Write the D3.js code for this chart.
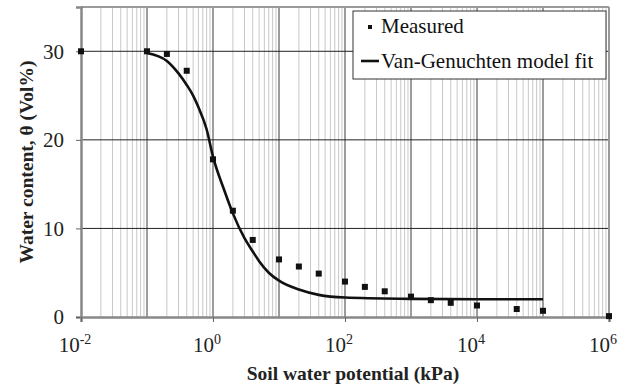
<!DOCTYPE html>
<html>
<head>
<meta charset="utf-8">
<script src="https://cdn.jsdelivr.net/npm/d3@7"></script>
<style>
  body { margin: 0; background: #fff; }
  svg { display: block; font-family: "Liberation Serif", "Times New Roman", serif; }
</style>
</head>
<body>
<svg id="chart" width="629" height="390"></svg>
<script>
// measured retention points (kPa, vol%)
const measuredX = [0.01, 0.1, 0.2, 0.4, 1, 2, 4, 10, 20, 40, 100, 200, 400, 1000, 2000, 4000, 10000, 40000, 100000, 1000000]
const measuredY = [30, 30, 29.7, 27.8, 17.8, 12, 8.7, 6.5, 5.7, 4.9, 4.0, 3.4, 2.9, 2.3, 1.9, 1.6, 1.3, 0.9, 0.7, 0.1]

// van Genuchten fit
const fitX = [0.1, 0.2, 0.3, 0.4, 0.5, 0.6, 0.8, 1, 1.5, 2, 3, 4, 5, 7, 10, 20, 40, 100, 1000, 10000, 100000]
const fitY = [29.8, 28.9, 27.5, 26.2, 25.0, 23.7, 21.2, 18.1, 14.2, 11.7, 8.9, 7.4, 6.3, 5.0, 4.1, 3.1, 2.5, 2.2, 2.05, 2.0, 2.0]

const xTicks = [-2, 0, 2, 4, 6]       // exponents
const yTicks = [0, 10, 20, 30]
const legendLabels = ['Measured', 'Van-Genuchten model fit']

const margin = { top: 7, right: 20, bottom: 73, left: 81 }
const width = 629 - margin.left - margin.right
const height = 390 - margin.top - margin.bottom

const svg = d3.select('#chart')
const g = svg.append('g')
    .attr('transform', `translate(${margin.left},${margin.top})`)

const x = d3.scaleLog().domain([1e-2, 1e6]).range([0, width])
const y = d3.scaleLinear().domain([0, 35]).range([height, 0])

// minor vertical grid
const minor = []
for (let e = -2; e < 6; e++)
  for (let k = 2; k < 10; k++) minor.push(k * Math.pow(10, e))

g.append('g')
    .selectAll('line')
    .data(minor)
    .join('line')
    .attr('x1', d => x(d)).attr('x2', d => x(d))
    .attr('y1', 0).attr('y2', height)
    .attr('stroke', '#c8c8c8')
    .attr('stroke-width', 1)

// major vertical grid
g.append('g')
    .selectAll('line')
    .data(d3.range(-1, 6))
    .join('line')
    .attr('x1', d => x(Math.pow(10, d))).attr('x2', d => x(Math.pow(10, d)))
    .attr('y1', 0).attr('y2', height)
    .attr('stroke', '#3a3a3a')
    .attr('stroke-width', 1)

// horizontal grid
g.append('g')
    .selectAll('line')
    .data(yTicks.filter(d => d > 0))
    .join('line')
    .attr('x1', 0).attr('x2', width)
    .attr('y1', d => y(d)).attr('y2', d => y(d))
    .attr('stroke', '#222')
    .attr('stroke-width', 1)

// frame
g.append('line').attr('x1', 0).attr('x2', width).attr('y1', 0).attr('y2', 0)
    .attr('stroke', '#999').attr('stroke-width', 2)
g.append('line').attr('x1', width).attr('x2', width).attr('y1', 0).attr('y2', height)
    .attr('stroke', '#999').attr('stroke-width', 2)

// axes
const yAxis = g.append('g')
    .call(d3.axisLeft(y).tickValues(yTicks).tickSize(5).tickPadding(12))
yAxis.select('.domain').attr('stroke', '#888').attr('stroke-width', 2.5)
yAxis.selectAll('.tick line').attr('stroke', '#666')
yAxis.selectAll('text')
    .attr('font-size', 21)
    .attr('fill', '#222')
    .attr('font-family', '"Liberation Serif", serif')

const xAxis = g.append('g')
    .attr('transform', `translate(0,${height})`)
    .call(d3.axisBottom(x).tickValues(xTicks.map(e => Math.pow(10, e))).tickSize(5).tickFormat(''))
xAxis.select('.domain').attr('stroke', '#888').attr('stroke-width', 2.5)
xAxis.selectAll('.tick line').attr('stroke', '#666')

const xLabels = g.append('g')
    .selectAll('text')
    .data(xTicks)
    .join('text')
    .attr('x', d => x(Math.pow(10, d)) - 6)
    .attr('y', height + 35)
    .attr('text-anchor', 'middle')
    .attr('font-size', 21)
    .attr('fill', '#222')

xLabels.append('tspan').text('10')
xLabels.append('tspan')
    .attr('dy', -8)
    .attr('font-size', 14)
    .text(d => d)

// fit curve
const line = d3.line()
    .x(d => x(d[0]))
    .y(d => y(d[1]))
    .curve(d3.curveMonotoneX)

g.append('path')
    .datum(d3.zip(fitX, fitY))
    .attr('fill', 'none')
    .attr('stroke', '#111')
    .attr('stroke-width', 2.6)
    .attr('d', line)

// measured squares
const s = 6
g.append('g')
    .selectAll('rect')
    .data(d3.zip(measuredX, measuredY))
    .join('rect')
    .attr('x', d => x(d[0]) - s / 2)
    .attr('y', d => y(d[1]) - s / 2)
    .attr('width', s)
    .attr('height', s)
    .attr('fill', '#111')

// legend
const legend = svg.append('g')
    .attr('transform', 'translate(353,11)')

legend.append('rect')
    .attr('width', 253).attr('height', 68)
    .attr('fill', '#fff')
    .attr('stroke', '#333')
    .attr('stroke-width', 1)

legend.append('rect')
    .attr('x', 15).attr('y', 14).attr('width', 4).attr('height', 4)
    .attr('fill', '#111')

legend.append('line')
    .attr('x1', 8).attr('x2', 26).attr('y1', 50).attr('y2', 50)
    .attr('stroke', '#111').attr('stroke-width', 2.6)

legend.selectAll('text.lbl')
    .data(legendLabels)
    .join('text')
    .attr('class', 'lbl')
    .attr('x', 28)
    .attr('y', (d, i) => 22 + i * 35)
    .attr('font-size', 21)
    .attr('fill', '#111')
    .text(d => d)

// axis titles
svg.append('text')
    .attr('x', 353)
    .attr('y', 380)
    .attr('text-anchor', 'middle')
    .attr('font-size', 19.5)
    .attr('font-weight', 'bold')
    .attr('fill', '#222')
    .text('Soil water potential (kPa)')

svg.append('text')
    .attr('transform', 'translate(33,162) rotate(-90)')
    .attr('text-anchor', 'middle')
    .attr('font-size', 19.5)
    .attr('font-weight', 'bold')
    .attr('fill', '#222')
    .text('Water content, θ (Vol%)')
</script>
</body>
</html>
